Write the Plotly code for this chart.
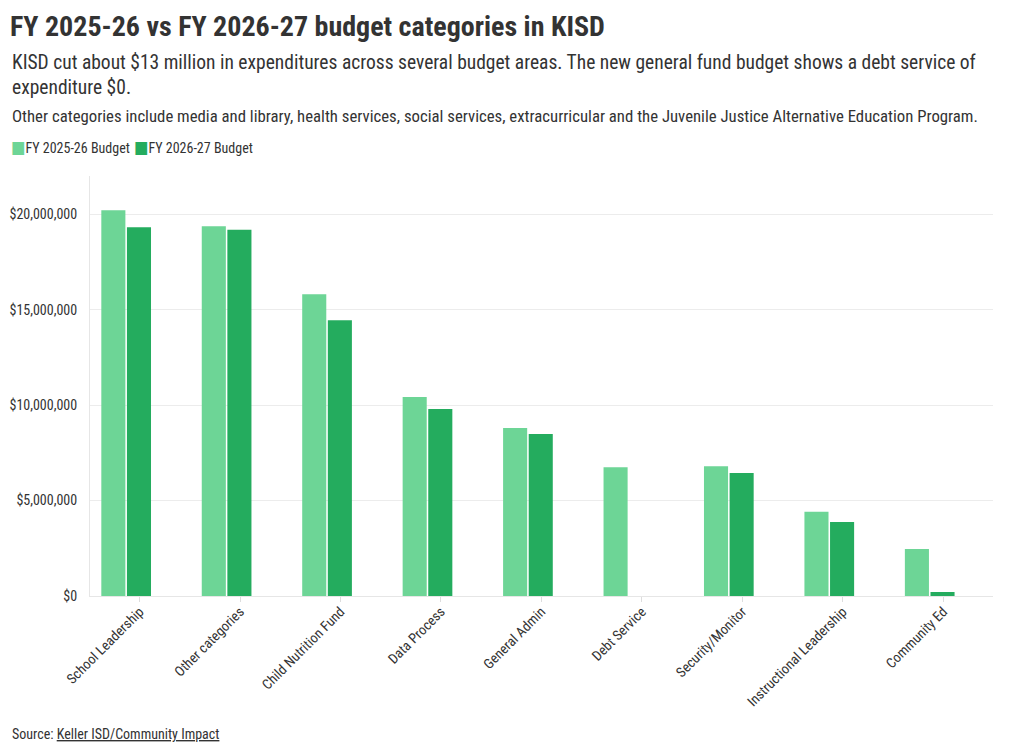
import plotly.graph_objects as go

categories = ["School Leadership", "Other categories", "Child Nutrition Fund", "Data Process",
              "General Admin", "Debt Service", "Security/Monitor", "Instructional Leadership",
              "Community Ed"]
budget_2025_26 = [20210000, 19370000, 15810000, 10420000, 8800000, 6750000, 6790000, 4410000, 2460000]
budget_2026_27 = [19320000, 19190000, 14450000, 9790000, 8480000, 0, 6440000, 3870000, 210000]
series_names = ["FY 2025-26 Budget", "FY 2026-27 Budget"]
series_colors = ["#6dd596", "#24ac5e"]
y_ticks = [0, 5000000, 10000000, 15000000, 20000000]
y_tick_labels = ["$0", "$5,000,000", "$10,000,000", "$15,000,000", "$20,000,000"]

FONT = "Roboto Condensed, Liberation Sans Narrow, DejaVu Sans Condensed, Roboto, sans-serif"
TXT = "#333333"

positions = list(range(len(categories)))
TICK_SHIFT = 0.134  # reference places category ticks under the second bar of each group

fig = go.Figure()
fig.add_trace(go.Bar(x=positions, y=budget_2025_26, name=series_names[0], customdata=categories,
                     marker=dict(color=series_colors[0], line=dict(width=0))))
fig.add_trace(go.Bar(x=positions, y=budget_2026_27, name=series_names[1], customdata=categories,
                     marker=dict(color=series_colors[1], line=dict(width=0))))

# page has an 8px body margin; layout measured in window pixels
OFF = 8
FW, FH = 1020 - OFF, 752 - OFF
L, R, T, B = 90 - OFF, 27, 176 - OFF, 156
W = FW - L - R
H = FH - T - B


def px(xw):
    return (xw - OFF - L) / W


def py(yw):
    return 1 - (yw - OFF - T) / H


fig.update_layout(
    width=FW, height=FH,
    margin=dict(l=L, r=R, t=T, b=B, pad=0, autoexpand=False),
    paper_bgcolor="white", plot_bgcolor="white",
    font=dict(family=FONT, color=TXT, size=14),
    barmode="group", bargap=0.49, bargroupgap=0.06,
    title=dict(text="<b>FY 2025-26 vs FY 2026-27 budget categories in KISD</b>",
               xref="container", yref="container", x=(10 - OFF) / FW, xanchor="left",
               y=1 - (26 - OFF) / FH, yanchor="middle",
               font=dict(size=28, color=TXT, family=FONT)),
    showlegend=False,
    xaxis=dict(range=[-0.36, 8.63], showgrid=False, showline=True, linecolor="#e6e6e6",
               tickvals=[p + TICK_SHIFT for p in positions], ticktext=categories,
               ticks="outside", ticklen=5, tickcolor="#dddddd", tickangle=-45,
               tickfont=dict(size=14, color=TXT), zeroline=False, automargin=False,
               ticklabelstandoff=-4),
    yaxis=dict(range=[0, 22000000], tickvals=y_ticks, ticktext=y_tick_labels,
               showgrid=True, gridcolor="#ececec", showline=True, linecolor="#e6e6e6",
               zeroline=False, ticks="", tickfont=dict(size=14, color=TXT), ticklabelstandoff=9,
               automargin=False),
)

fig.add_annotation(xref="paper", yref="paper", x=px(10), xanchor="left",
                   y=py(49), yanchor="top", showarrow=False, align="left",
                   text="KISD cut about $13 million in expenditures across several budget areas. The new general fund budget shows a debt service of<br>expenditure $0.",
                   font=dict(size=19.5, color=TXT))
fig.add_annotation(xref="paper", yref="paper", x=px(10), xanchor="left",
                   y=py(116), yanchor="middle", showarrow=False, align="left",
                   text="Other categories include media and library, health services, social services, extracurricular and the Juvenile Justice Alternative Education Program.",
                   font=dict(size=16.75, color=TXT))
legend_x = [9, 132]
for name, color, lx in zip(series_names, series_colors, legend_x):
    fig.add_annotation(xref="paper", yref="paper", x=px(lx), xanchor="left",
                       y=py(147), yanchor="middle", showarrow=False, align="left",
                       text=f"<span style='color:{color};font-size:17px'>■</span>{name}",
                       font=dict(size=14, color=TXT))
fig.add_annotation(xref="paper", yref="paper", x=px(10), xanchor="left",
                   y=py(734), yanchor="middle", showarrow=False, align="left",
                   text="Source: <u>Keller ISD/Community Impact</u>",
                   font=dict(size=14, color=TXT))

fig.write_html("out.html")
